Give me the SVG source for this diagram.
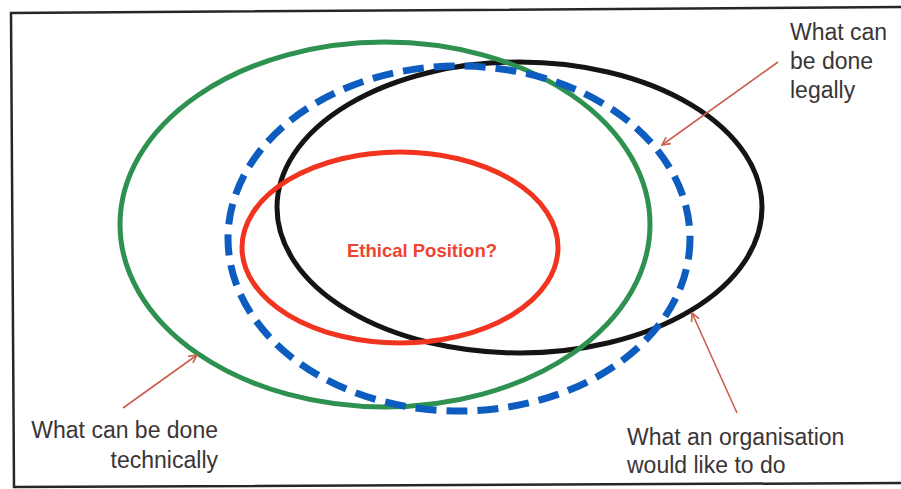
<svg xmlns="http://www.w3.org/2000/svg" width="901" height="489" viewBox="0 0 901 489">
  <style>
    .ring { fill: none; }
    .label { font-family: "Liberation Sans", Arial, sans-serif; font-size: 23px; fill: #3a3536; }
    .pointer { stroke: #c9604c; stroke-width: 1.6; fill: none; }
  </style>
  <defs>
    <marker id="tip" viewBox="0 0 10 10" refX="9" refY="5" markerWidth="10" markerHeight="10" markerUnits="userSpaceOnUse" orient="auto">
      <path d="M1,1 L9,5 L1,9" fill="none" stroke="#c9604c" stroke-width="1.6"/>
    </marker>
  </defs>

  <rect x="0" y="0" width="901" height="489" fill="#ffffff"/>
  <!-- frame -->
  <path d="M901,7 L11,13 L14,487 L901,483" fill="none" stroke="#262626" stroke-width="2.5"/>

  <g id="organisation">
    <ellipse class="ring" cx="519.5" cy="207.5" rx="242.5" ry="145.5" stroke="#141414" stroke-width="5"/>
  </g>
  <g id="technically">
    <ellipse class="ring" cx="385" cy="224.5" rx="265" ry="182.5" stroke="#2f9150" stroke-width="5"/>
  </g>
  <g id="ethical">
    <ellipse class="ring" cx="400" cy="247.5" rx="158" ry="95.5" stroke="#f0341f" stroke-width="5"/>
    <text x="422" y="257" text-anchor="middle" font-family="'Liberation Sans', Arial, sans-serif" font-size="18.5" font-weight="bold" fill="#ef4430">Ethical Position?</text>
  </g>
  <g id="legally">
    <ellipse class="ring" cx="459" cy="238.5" rx="231" ry="172.5" stroke="#0d5cbf" stroke-width="7" stroke-dasharray="21 10"/>
  </g>

  <g id="labels">
    <text class="label" x="790" y="40">What can</text>
    <text class="label" x="790" y="69">be done</text>
    <text class="label" x="790" y="98">legally</text>
    <text class="label" x="218" y="438" text-anchor="end">What can be done</text>
    <text class="label" x="218" y="468" text-anchor="end">technically</text>
    <text class="label" x="627" y="445">What an organisation</text>
    <text class="label" x="627" y="473">would like to do</text>
  </g>

  <g id="connectors">
    <line class="pointer" x1="778" y1="62" x2="662" y2="145" marker-end="url(#tip)"/>
    <line class="pointer" x1="123" y1="408" x2="197" y2="355" marker-end="url(#tip)"/>
    <line class="pointer" x1="737" y1="413" x2="692" y2="313" marker-end="url(#tip)"/>
  </g>
</svg>
